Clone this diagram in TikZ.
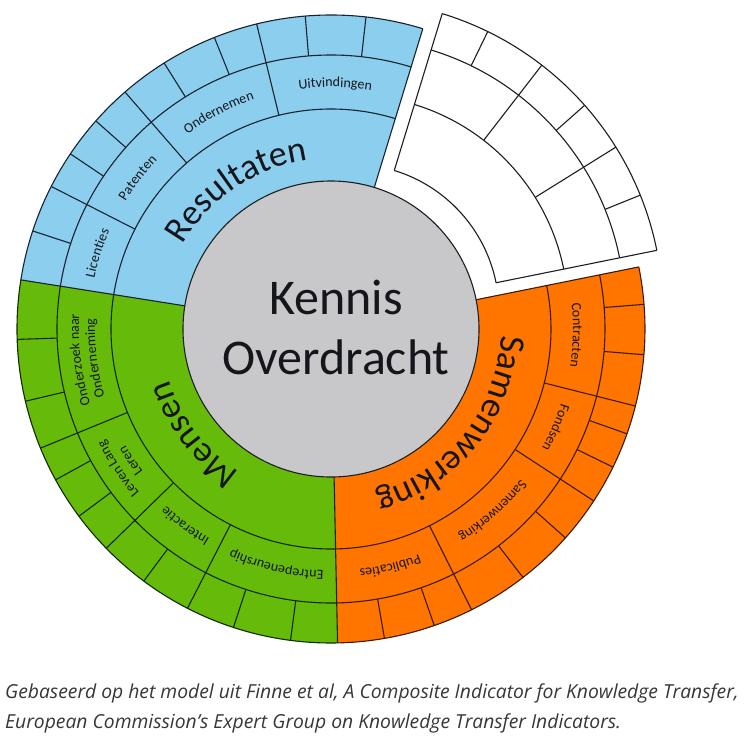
\documentclass[tikz,border=0pt]{standalone}
\usepackage{fontspec}
\setmainfont{Carlito}
\newfontfamily\capfont{Open Sans}
\usetikzlibrary{decorations.text}
\definecolor{cblue}{RGB}{140,206,238}
\definecolor{cgreen}{RGB}{102,187,10}
\definecolor{corange}{RGB}{255,117,0}
\definecolor{cgray}{RGB}{200,200,203}
\definecolor{lblue}{RGB}{22,34,48}
\definecolor{lgreen}{RGB}{18,42,0}
\definecolor{lorange}{RGB}{62,26,0}
\definecolor{lwhite}{RGB}{30,30,30}
\definecolor{ctext}{RGB}{20,22,28}
\definecolor{ccap}{RGB}{55,55,55}
\newcommand\annsec[5]{\fill[#1] (#2:#4pt) arc[start angle=#2,end angle=#3,radius=#4pt] -- (#3:#5pt) arc[start angle=#3,end angle=#2,radius=#5pt] -- cycle;}
\newcommand\ringarc[3]{\draw[ln] (#1:#3pt) arc[start angle=#1,end angle=#2,radius=#3pt];}
\newcommand\spoke[3]{\draw[ln] (#1:#2pt) -- (#1:#3pt);}
\newcommand\catf{\color{ctext}\fontsize{36pt}{36pt}\selectfont}
\newcommand\subf{\color{ctext}\fontsize{14pt}{14pt}\selectfont}
% text along a clockwise arc centred on angle #1, radius #2
\newcommand\arclabel[4]{\path[decorate,decoration={text along path,text align=center,text={|#4|#3}}]
  ({#1+#2}:#2pt) arc[start angle={#1+#2},end angle={#1-#2},radius=#2pt];}
\tikzset{ln/.style={line width=1.1pt,line join=round},
  captext/.style={anchor=base west,inner sep=0pt,text=ccap,font=\capfont\itshape\fontsize{19.3pt}{19.3pt}\selectfont}}
\begin{document}
\begin{tikzpicture}
\useasboundingbox (-331pt,-419pt) rectangle (419pt,329pt);
\fill[white] (-331pt,-419pt) rectangle (419pt,329pt);
% ---------- fills
\annsec{cblue}{73}{171}{140}{314}
\annsec{cgreen}{171}{271.2}{140}{314}
\annsec{corange}{271.2}{371.4}{140}{314}
% ---------- blue lines
\begin{scope}[every path/.append style={draw=lblue}]
\ringarc{73}{171}{220}\ringarc{73}{171}{274}\ringarc{73}{171}{314}
\spoke{73}{148}{314}\spoke{171}{148}{314}
\foreach \a in {153,131,103.7} {\spoke{\a}{220}{314}}
\foreach \a in {161.8,146.1,138.5,122.1,111.8,94.7,83.6} {\spoke{\a}{274}{314}}
\end{scope}
% ---------- green lines
\begin{scope}[every path/.append style={draw=lgreen}]
\ringarc{171}{271.2}{220}\ringarc{171}{271.2}{274}\ringarc{171}{271.2}{314}
\spoke{271.2}{148}{314}
\foreach \a in {202.3,224.3,242.8} {\spoke{\a}{220}{314}}
\foreach \a in {181.9,193.3,208.7,216.6,233.4,251.9,262.6} {\spoke{\a}{274}{314}}
\end{scope}
% ---------- orange lines
\begin{scope}[every path/.append style={draw=lorange}]
\ringarc{271.2}{371.4}{220}\ringarc{271.2}{371.4}{274}\ringarc{271.2}{371.4}{314}
\spoke{371.4}{148}{314}
\foreach \a in {296.6,326.8,345.8} {\spoke{\a}{220}{314}}
\foreach \a in {279.8,289.2,307.7,318.3,333.9,340.5,355.3,364.5} {\spoke{\a}{274}{314}}
\end{scope}
% ---------- exploded white sector
\begin{scope}[shift={(20pt,17pt)},every path/.append style={draw=lwhite}]
\fill[white,draw=none] (11.4:148pt) arc[start angle=11.4,end angle=73,radius=148pt] -- (73:312pt) arc[start angle=73,end angle=11.4,radius=312pt] -- cycle;
\ringarc{11.4}{73}{148}\ringarc{11.4}{73}{217}\ringarc{11.4}{73}{274}\ringarc{11.4}{73}{312}
\spoke{11.4}{148}{312}\spoke{73}{148}{312}
\foreach \a in {31.9,52.3} {\spoke{\a}{217}{312}}
\foreach \a in {22,41.5,64} {\spoke{\a}{274}{312}}
\end{scope}
% ---------- centre
\filldraw[fill=cgray,draw=lwhite,line width=1.1pt] (0,0) circle[radius=148pt];
\node[align=center,text=ctext,font=\fontsize{50pt}{60pt}\selectfont] (centre) at (5pt,2pt) {Kennis\\Overdracht};
% ---------- category labels
\arclabel{124}{170}{Resultaten}{\catf}
\arclabel{217.5}{170}{Mensen}{\catf}
\arclabel{321.5}{170}{Samenwerking}{\catf}
% ---------- sub labels
\arclabel{162}{242}{Licenties}{\subf}
\arclabel{142}{242}{Patenten}{\subf}
\arclabel{117.4}{242}{Ondernemen}{\subf}
\arclabel{89}{242}{Uitvindingen}{\subf}
\arclabel{187}{252}{Onderzoek naar}{\subf}
\arclabel{187}{236}{Onderneming}{\subf}
\arclabel{213.3}{252}{Leven Lang}{\subf}
\arclabel{213.3}{236}{Leren}{\subf}
\arclabel{233.5}{242}{Interactie}{\subf}
\arclabel{257}{242}{Entrepeneurship}{\subf}
\arclabel{284}{242}{Publicaties}{\subf}
\arclabel{311.7}{242}{Samenwerking}{\subf}
\arclabel{336.3}{242}{Fondsen}{\subf}
\arclabel{358.6}{242}{Contracten}{\subf}
% ---------- caption
\node[captext] (cap1) at (-326pt,-369pt) {Gebaseerd op het model uit Finne et al, A Composite Indicator for Knowledge Transfer,};
\node[captext] (cap2) at (-326pt,-399pt) {European Commission’s Expert Group on Knowledge Transfer Indicators.};
\end{tikzpicture}
\end{document}
